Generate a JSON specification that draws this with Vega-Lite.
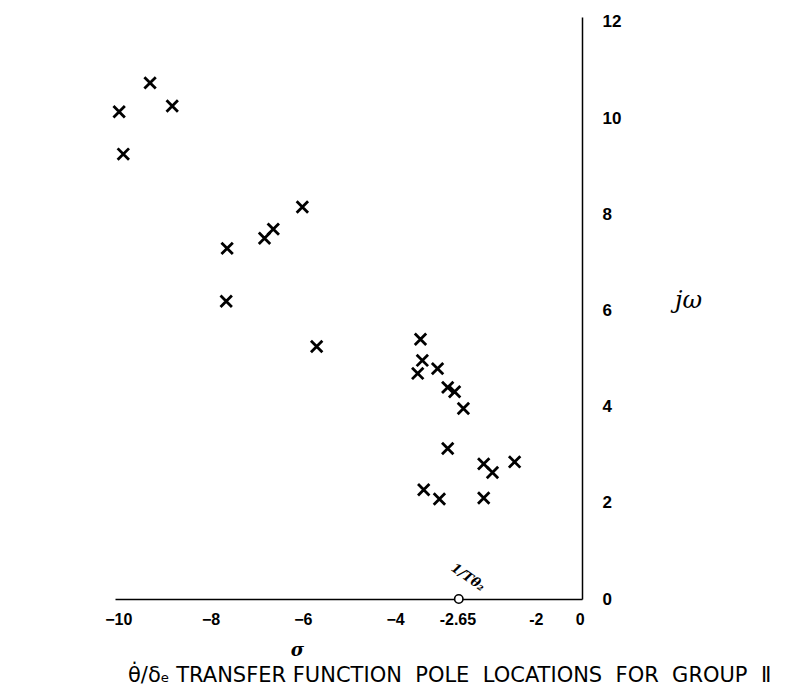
{
  "$schema": "https://vega.github.io/schema/vega-lite/v6.json",
  "autosize": "none",
  "width": 467,
  "height": 582,
  "padding": {"left": 115, "top": 17, "right": 216, "bottom": 97},
  "background": "white",
  "config": {"view": {"stroke": null}},
  "title": {
    "text": "θ̇/δₑ TRANSFER FUNCTION \u00a0POLE \u00a0LOCATIONS \u00a0FOR \u00a0GROUP \u00a0Ⅱ",
    "orient": "bottom",
    "anchor": "start",
    "frame": "group",
    "dx": 13,
    "offset": 6,
    "font": "DejaVu Sans",
    "fontSize": 21,
    "fontWeight": "normal",
    "color": "black"
  },
  "datasets": {
    "poles": [
      {"sigma": -9.31, "omega": 10.73},
      {"sigma": -9.98, "omega": 10.13},
      {"sigma": -8.83, "omega": 10.25},
      {"sigma": -9.89, "omega": 9.25},
      {"sigma": -6.01, "omega": 8.15},
      {"sigma": -6.64, "omega": 7.69},
      {"sigma": -6.83, "omega": 7.5},
      {"sigma": -7.64, "omega": 7.29},
      {"sigma": -7.66, "omega": 6.19},
      {"sigma": -5.7, "omega": 5.25},
      {"sigma": -3.45, "omega": 5.4},
      {"sigma": -3.41, "omega": 4.96},
      {"sigma": -3.51, "omega": 4.69},
      {"sigma": -3.08, "omega": 4.79},
      {"sigma": -2.86, "omega": 4.4},
      {"sigma": -2.71, "omega": 4.31},
      {"sigma": -2.52, "omega": 3.96},
      {"sigma": -2.86, "omega": 3.13},
      {"sigma": -2.08, "omega": 2.81},
      {"sigma": -1.89, "omega": 2.63},
      {"sigma": -1.41, "omega": 2.85},
      {"sigma": -3.38, "omega": 2.27},
      {"sigma": -3.04, "omega": 2.08},
      {"sigma": -2.08, "omega": 2.1}
    ],
    "zero": [
      {"sigma": -2.62, "omega": 0, "label": "1/Tθ₂", "lsigma": -2.42, "lomega": 0.45}
    ]
  },
  "layer": [
    {
      "data": {"name": "poles"},
      "mark": {
        "type": "point",
        "shape": "M-1,-1L1,1M-1,1L1,-1",
        "size": 130,
        "stroke": "black",
        "strokeWidth": 2.8,
        "filled": false,
        "opacity": 1
      },
      "encoding": {
        "x": {
          "field": "sigma",
          "type": "quantitative",
          "scale": {"domain": [-10.07, 0.05], "nice": false, "zero": false},
          "axis": {
            "orient": "bottom",
            "values": [-10, -8, -6, -4, -2.65, -0.95, 0],
            "labelExpr": "datum.value == -0.95 ? '-2' : (datum.value == -2.65 ? '-2.65' : datum.label)",
            "domain": true,
            "domainColor": "black",
            "domainWidth": 1.5,
            "ticks": false,
            "grid": false,
            "labelFont": "Liberation Sans",
            "labelFontWeight": "bold",
            "labelFontSize": 16,
            "labelColor": "black",
            "labelPadding": 12,
            "labelFlush": false,
            "labelOverlap": false,
            "title": "σ",
            "titleFont": "DejaVu Serif",
            "titleFontStyle": "italic",
            "titleFontWeight": "bold",
            "titleFontSize": 18,
            "titleColor": "black",
            "titleX": 182,
            "titleY": 51,
            "titleAlign": "center",
            "titleBaseline": "middle"
          }
        },
        "y": {
          "field": "omega",
          "type": "quantitative",
          "scale": {"domain": [0, 12.1], "nice": false, "zero": false},
          "axis": {
            "orient": "right",
            "values": [0, 2, 4, 6, 8, 10, 12],
            "domain": true,
            "domainColor": "black",
            "domainWidth": 1.5,
            "ticks": false,
            "grid": false,
            "labelFont": "Liberation Sans",
            "labelFontWeight": "bold",
            "labelFontSize": 17,
            "labelColor": "black",
            "labelAlign": "left",
            "labelPadding": 20,
            "labelFlush": false,
            "labelOverlap": false,
            "title": "jω",
            "titleAngle": 0,
            "titleFont": "DejaVu Serif",
            "titleFontStyle": "italic",
            "titleFontWeight": "normal",
            "titleFontSize": 24,
            "titleColor": "black",
            "titleX": 106,
            "titleY": 283,
            "titleAlign": "center",
            "titleBaseline": "middle"
          }
        }
      }
    },
    {
      "data": {"name": "zero"},
      "mark": {
        "type": "point",
        "shape": "circle",
        "size": 70,
        "stroke": "black",
        "strokeWidth": 1.6,
        "fill": "white",
        "filled": true,
        "opacity": 1
      },
      "encoding": {
        "x": {"field": "sigma", "type": "quantitative"},
        "y": {"field": "omega", "type": "quantitative"}
      }
    },
    {
      "data": {"name": "zero"},
      "mark": {
        "type": "text",
        "angle": 35,
        "font": "DejaVu Serif",
        "fontStyle": "italic",
        "fontWeight": "bold",
        "fontSize": 13,
        "color": "black",
        "align": "center",
        "baseline": "middle"
      },
      "encoding": {
        "x": {"field": "lsigma", "type": "quantitative"},
        "y": {"field": "lomega", "type": "quantitative"},
        "text": {"field": "label"}
      }
    }
  ]
}
